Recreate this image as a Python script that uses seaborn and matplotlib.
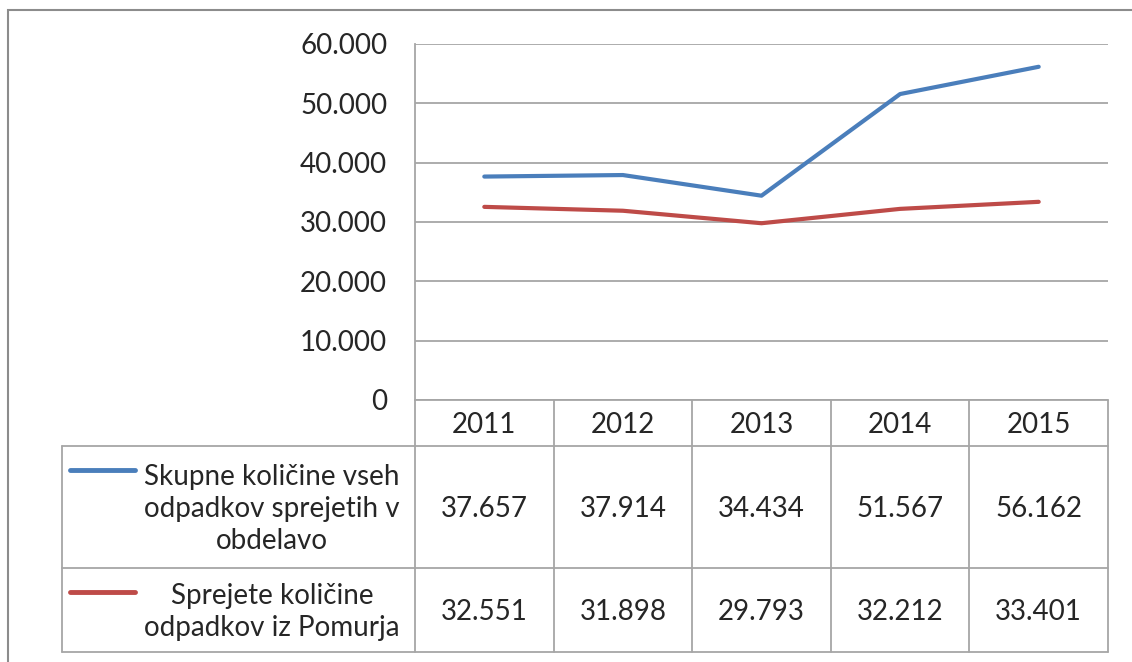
import numpy as np
import pandas as pd
import seaborn as sns
import matplotlib.pyplot as plt
from matplotlib.lines import Line2D
from matplotlib.patches import Rectangle

years = ['2011', '2012', '2013', '2014', '2015']
skupne = [37657, 37914, 34434, 51567, 56162]
pomurje = [32551, 31898, 29793, 32212, 33401]
labels = ['Skupne količine vseh\nodpadkov sprejetih v\nobdelavo',
          'Sprejete količine\nodpadkov iz Pomurja']
yticks = [0, 10000, 20000, 30000, 40000, 50000, 60000]

blue = '#4a7ebb'
red = '#be4b48'
grid = '#a6a6a6'
txt = '#262626'
fs = 20

sns.set_theme(style='white')
plt.rcParams['font.family'] = ['Lato', 'DejaVu Sans']

W, H = 1132, 662
fig = plt.figure(figsize=(W / 100, H / 100), dpi=100)

def box(x0, y0, x1, y1):
    return [x0 / W, 1 - y1 / H, (x1 - x0) / W, (y1 - y0) / H]

# outer frame
fig.patches.append(Rectangle((8 / W, -0.1), 1.2, 1 - 10 / H + 0.1, transform=fig.transFigure,
                             fill=False, edgecolor='#8c8c8c', linewidth=1.5))

df = pd.DataFrame({'year': list(range(5)) * 2,
                   'value': skupne + pomurje,
                   'serie': [labels[0]] * 5 + [labels[1]] * 5})

ax = fig.add_axes(box(415, 44, 1108, 400))
sns.lineplot(data=df, x='year', y='value', hue='serie', palette=[blue, red],
             linewidth=3, legend=False, ax=ax)
ax.set_xlim(-0.5, 4.5)
ax.set_ylim(0, 60000)
ax.set_yticks(yticks)
ax.set_yticklabels([f'{v:,}'.replace(',', '.') for v in yticks], fontsize=fs, color=txt)
ax.set_xticks([])
ax.set_xlabel('')
ax.set_ylabel('')
ax.tick_params(axis='y', length=0, pad=20)
for v in yticks:
    ax.axhline(v, color=grid, linewidth=1.3, zorder=0)
for s in ['top', 'right', 'bottom']:
    ax.spines[s].set_visible(False)
ax.spines['left'].set_color(grid)
ax.spines['left'].set_linewidth(1.3)

# data table
tx = fig.add_axes(box(55, 395, 1115, 660))
tx.set_xlim(55, 1115)
tx.set_ylim(660, 395)
tx.axis('off')
edges = np.linspace(415, 1108, 6)
centers = (edges[:-1] + edges[1:]) / 2
rows = [400, 446, 568, 652]
lk = dict(color=grid, linewidth=1.3)
tx.plot([415, 1108], [rows[0], rows[0]], **lk)
for r in rows[1:]:
    tx.plot([62, 1108], [r, r], **lk)
for e in edges:
    tx.plot([e, e], [rows[0], rows[3]], **lk)
tx.plot([62, 62], [rows[1], rows[3]], **lk)

for c, y in zip(centers, years):
    tx.text(c, (rows[0] + rows[1]) / 2 + 2, y, ha='center', va='center', fontsize=fs, color=txt)
for i, (vals, col) in enumerate([(skupne, blue), (pomurje, red)]):
    ymid = (rows[i + 1] + rows[i + 2]) / 2
    for c, v in zip(centers, vals):
        tx.text(c, ymid + 2, f'{v:,}'.replace(',', '.'), ha='center', va='center', fontsize=fs, color=txt)
    ky = rows[i + 1] + 24
    tx.add_line(Line2D([70, 135], [ky, ky], color=col, linewidth=3.5))
    tx.text(272, ymid + 2, labels[i], ha='center', va='center', fontsize=fs, color=txt,
            linespacing=1.3, multialignment='center')

fig.savefig('out.png', dpi=100)
